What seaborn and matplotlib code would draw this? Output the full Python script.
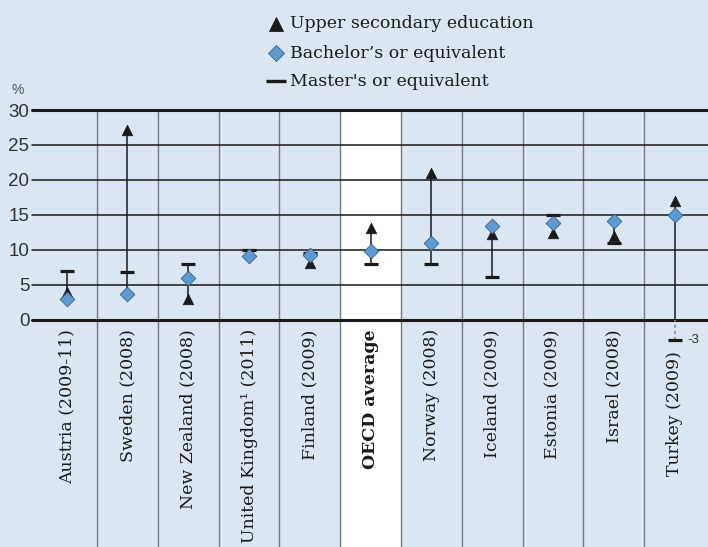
import matplotlib
matplotlib.use("Agg")
import matplotlib.pyplot as plt
from matplotlib.lines import Line2D
import matplotlib.transforms as mtransforms
import numpy as np
import pandas as pd
import seaborn as sns

# Categories (countries, reference year)
countries = [
    "Austria (2009-11)", "Sweden (2008)", "New Zealand (2008)",
    "United Kingdom\u00b9 (2011)", "Finland (2009)", "OECD average",
    "Norway (2008)", "Iceland (2009)", "Estonia (2009)", "Israel (2008)",
    "Turkey (2009)",
]
# Percentage values per level of education
upper_secondary = [4, 27.2, 3, np.nan, 8.1, 13.1, 21, 12.2, 12.4, 12, 17]
bachelor = [3, 3.7, 6, 9.1, 9.3, 9.8, 11, 13.4, 13.8, 14.1, 15]
master = [7, 6.8, 8, 10, 9.5, 7.9, 8, 6.1, 15, 11, -3]
y_ticks = [0, 5, 10, 15, 20, 25, 30]

BG = "#dae6f1"
DIAMOND = "#5b9bd5"
INK = "#1a1a1a"
SERIF = ["DejaVu Serif", "Liberation Serif"]

sns.set_theme(style="white")
plt.rcParams["font.family"] = ["Liberation Sans", "DejaVu Sans"]

df = pd.DataFrame({
    "country": countries,
    "upper": upper_secondary,
    "bachelor": bachelor,
    "master": master,
})
df["pos"] = np.arange(len(df))

W, H = 708, 547
ax_left, ax_right = 36.2, 705.0
ax_top, ax_bottom = 110.0, 319.5
fig = plt.figure(figsize=(W / 100, H / 100), dpi=100, facecolor=BG)
ax = fig.add_axes([ax_left / W, 1 - ax_bottom / H,
                   (ax_right - ax_left) / W, (ax_bottom - ax_top) / H])
ax.set_facecolor(BG)
ax.set_xlim(-0.5, len(countries) - 0.5)
ax.set_ylim(0, 30)
for s in ax.spines.values():
    s.set_visible(False)

ax_w = ax_right - ax_left
ax_h = ax_bottom - ax_top
y_floor = -(H - ax_bottom) / ax_h - 0.05

# white band for the OECD average, running down through the labels
oecd_pos = countries.index("OECD average")
ax.axvspan(oecd_pos - 0.5, oecd_pos + 0.5, ymin=y_floor, ymax=1.0,
           facecolor="white", edgecolor="none", clip_on=False, zorder=0)

# vertical separators running down through the label area
trans = mtransforms.blended_transform_factory(ax.transData, ax.transAxes)
for i in range(len(countries) - 1):
    ax.add_line(Line2D([i + 0.5, i + 0.5], [1.0, y_floor], transform=trans,
                       color="#7a7a7a", lw=1.0, clip_on=False, zorder=1))

# horizontal grid lines spanning the full width
for yv in y_ticks:
    lw = 2.2 if yv in (0, 30) else 1.1
    ax.axhline(yv, xmin=-(ax_left - 32) / ax_w, xmax=1 + (W - ax_right) / ax_w,
               color=INK, lw=lw, clip_on=False, zorder=2)

# range lines between min and max of the three values
for _, r in df.iterrows():
    vals = [v for v in (r["upper"], r["bachelor"], r["master"]) if not np.isnan(v)]
    lo, hi = min(vals), max(vals)
    if lo < 0:
        ax.vlines(r["pos"], 0, hi, color=INK, lw=1.1, zorder=3)
        ax.vlines(r["pos"], lo, 0, color="#8a8a8a", lw=1.1,
                  linestyles=(0, (2, 2)), zorder=3, clip_on=False)
    else:
        ax.vlines(r["pos"], lo, hi, color=INK, lw=1.1, zorder=3)

# markers
sns.scatterplot(data=df, x="pos", y="master", marker="_", s=105,
                color=INK, linewidth=2.3, ax=ax, zorder=4, legend=False,
                clip_on=False)
sns.scatterplot(data=df, x="pos", y="upper", marker="^", s=58,
                color=INK, edgecolor=INK, linewidth=0.5, ax=ax, zorder=5,
                legend=False)
sns.scatterplot(data=df, x="pos", y="bachelor", marker="D", s=56,
                color=DIAMOND, edgecolor="#3a5f80", linewidth=0.6, ax=ax,
                zorder=6, legend=False)

# out-of-range value label
turkey = df.iloc[-1]
ax.annotate(f"{turkey['master']:g}", xy=(turkey["pos"], turkey["master"]),
            xytext=(9, 0), textcoords="offset points", va="center",
            ha="left", fontsize=9.5, color="#333333", annotation_clip=False)

ax.set_xlabel("")
ax.set_ylabel("")
ax.set_yticks(y_ticks)
ax.set_yticklabels([str(v) for v in y_ticks], fontsize=13.5, color="#333333")

# category labels; the last one sits lower, below the out-of-range marker
ax.set_xticks(df["pos"])
ax.set_xticklabels(countries[:-1] + [""], rotation=90, fontsize=12.5,
                   family=SERIF, color=INK)
for lab in ax.get_xticklabels():
    if lab.get_text() == "OECD average":
        lab.set_fontweight("bold")
ax.annotate(countries[-1], xy=(turkey["pos"], 0),
            xycoords=("data", "axes fraction"), xytext=(0, -22.8),
            textcoords="offset points", rotation=90, ha="center", va="top",
            fontsize=12.5, family=SERIF, color=INK, annotation_clip=False)
ax.tick_params(axis="both", length=0)
ax.tick_params(axis="y", pad=5)
ax.tick_params(axis="x", pad=7)

fig.text(18 / W, 1 - 90 / H, "%", fontsize=10, color="#555555",
         ha="center", va="center")

# legend
leg_items = [
    ("^", INK, INK, 10.5, 0.6, "Upper secondary education", 24),
    ("D", DIAMOND, "#3a5f80", 8.5, 0.6, "Bachelor\u2019s or equivalent", 53),
    ("_", INK, INK, 14.5, 2.4, "Master's or equivalent", 81),
]
for mk, fc, ec, ms, mew, text, ypx in leg_items:
    yf = 1 - ypx / H
    fig.add_artist(Line2D([276 / W], [yf], marker=mk, markersize=ms,
                          markerfacecolor=fc, markeredgecolor=ec,
                          markeredgewidth=mew, linestyle="none",
                          transform=fig.transFigure))
    fig.text(290 / W, yf, text, fontsize=12.5, color=INK, ha="left",
             va="center", family=SERIF)

fig.savefig("out.png", dpi=100, facecolor=BG)
